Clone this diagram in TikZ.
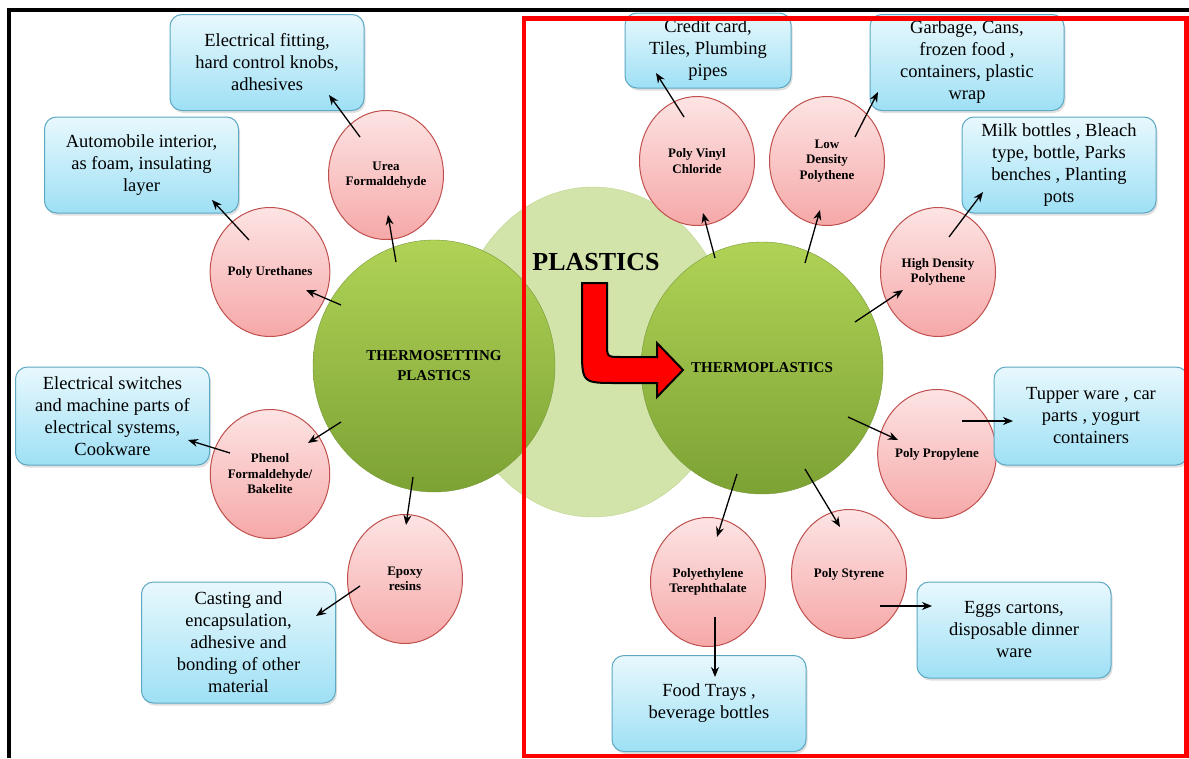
\documentclass[tikz,border=0pt]{standalone}
\usepackage{fontspec}
\setmainfont{Liberation Serif}
\usetikzlibrary{arrows.meta,shapes.geometric,shadows}

\definecolor{pinkline}{RGB}{192,80,77}
\definecolor{pinktop}{RGB}{253,228,228}
\definecolor{pinkbot}{RGB}{246,168,168}
\definecolor{blueline}{RGB}{93,168,196}
\definecolor{bluetop}{RGB}{232,248,253}
\definecolor{bluebot}{RGB}{158,224,245}
\definecolor{greenline}{RGB}{118,152,54}
\definecolor{greentop}{RGB}{176,210,86}
\definecolor{greenbot}{RGB}{124,162,52}
\definecolor{paleline}{RGB}{188,211,140}
\definecolor{palefill}{RGB}{211,228,171}

\tikzset{
  family/.style={ellipse, draw=greenline, top color=greentop, bottom color=greenbot,
    minimum width=242pt, minimum height=252pt, inner sep=0pt, align=center,
    font=\fontsize{15}{20}\selectfont\bfseries},
  polymer/.style={ellipse, draw=pinkline, line width=1pt, top color=pinktop, bottom color=pinkbot,
    minimum width=115pt, minimum height=129pt, inner sep=0pt, align=center,
    font=\fontsize{13}{15.5}\selectfont\bfseries},
  usage/.style={rectangle, rounded corners=12pt, draw=blueline, line width=1pt,
    top color=bluetop, bottom color=bluebot,
    drop shadow={shadow xshift=1.5pt, shadow yshift=-2.5pt, opacity=0.25},
    minimum width=194pt, minimum height=96pt, inner sep=2pt, align=center,
    font=\fontsize{18.5}{22}\selectfont}
}

\begin{document}
\begin{tikzpicture}[x=1pt, y=-1pt, >={Stealth[length=10pt,width=8pt]}]
    \useasboundingbox (0,0) rectangle (1189,758);

    % the two groups over the plastics circle
    \node[ellipse, draw=paleline, fill=palefill, minimum width=280pt, minimum height=330pt] (plas) at (593,352) {};
    \node[font=\fontsize{26}{30}\selectfont\bfseries] (plastitle) at (596,262) {PLASTICS};
    \node[family] (tset) at (434,366) {THERMOSETTING\\PLASTICS};
    \node[family] (tplast) at (762,368) {THERMOPLASTICS};

    \filldraw[fill=red, draw=black, line width=2pt, line join=miter]
      (582,283) -- (607,283) -- (607,343) .. controls (607,357) .. (621,357)
      -- (657,357) -- (657,343) -- (683,370) -- (657,397) -- (657,383)
      -- (617,383) .. controls (582,383) .. (582,348) -- cycle;

    % thermosetting side
    \node[polymer] (urea) at (386,175) {Urea\\Formaldehyde};
    \node[polymer] (pu) at (270,272) {Poly Urethanes};
    \node[polymer] (pf) at (270,474) {Phenol\\Formaldehyde/\\Bakelite};
    \node[polymer] (epoxy) at (405,579) {Epoxy\\resins};

    \node[usage] (fitting) at (267,62.5) {Electrical fitting,\\hard control knobs,\\adhesives};
    \node[usage] (auto) at (141.5,165) {Automobile interior,\\as foam, insulating\\layer};
    \node[usage, minimum height=98pt] (switch) at (112.5,416) {Electrical switches\\and machine parts of\\electrical systems,\\Cookware};
    \node[usage, minimum height=121pt] (casting) at (238.5,642.5) {Casting and\\encapsulation,\\adhesive and\\bonding of other\\material};

    % thermoplastics side
    \node[polymer] (pvc) at (697,161) {Poly Vinyl\\Chloride};
    \node[polymer] (ldp) at (827,161) {Low\\Density\\Polythene};
    \node[polymer] (hdp) at (938,272) {High Density\\Polythene};
    \node[polymer] (pp) at (937,454) {Poly Propylene};
    \node[polymer] (ps) at (849,574) {Poly Styrene};
    \node[polymer] (pet) at (708,582) {Polyethylene\\Terephthalate};

    \node[usage, minimum width=166pt, minimum height=75pt] (credit) at (708,50.5) {Credit card,\\Tiles, Plumbing\\pipes};
    \node[usage] (garbage) at (967,62.5) {Garbage, Cans,\\frozen food ,\\containers, plastic\\wrap};
    \node[usage] (milk) at (1059,165) {Milk bottles , Bleach\\type, bottle, Parks\\benches , Planting\\pots};
    \node[usage, minimum height=98pt] (tupper) at (1091,416) {Tupper ware , car\\parts , yogurt\\containers};
    \node[usage] (eggs) at (1014,630) {Eggs cartons,\\disposable dinner\\ware};
    \node[usage] (food) at (709,703.5) {Food Trays ,\\beverage bottles};

    \path[->, line width=1.3pt]
      ([shift={(-38,-104)}]tset.center) edge ([shift={(2,40)}]urea.center)
      ([shift={(-26,-38)}]urea.center) edge ([shift={(62,32.5)}]fitting.center)
      ([shift={(-93,-61)}]tset.center) edge ([shift={(36,18)}]pu.center)
      ([shift={(-21,-32)}]pu.center) edge ([shift={(70.5,35)}]auto.center)
      ([shift={(-93,56)}]tset.center) edge ([shift={(38,-31)}]pf.center)
      ([shift={(-40,-21)}]pf.center) edge ([shift={(75.5,24)}]switch.center)
      ([shift={(-21,111)}]tset.center) edge ([shift={(1,-54)}]epoxy.center)
      ([shift={(-45,7)}]epoxy.center) edge ([shift={(77.5,-26.5)}]casting.center)
      ([shift={(-47,-110)}]tplast.center) edge ([shift={(6,52)}]pvc.center)
      ([shift={(-13,-44)}]pvc.center) edge ([shift={(-52,22.5)}]credit.center)
      ([shift={(43,-105)}]tplast.center) edge ([shift={(-7,49)}]ldp.center)
      ([shift={(28,-24)}]ldp.center) edge ([shift={(-89,29.5)}]garbage.center)
      ([shift={(93,-46)}]tplast.center) edge ([shift={(-35,18)}]hdp.center)
      ([shift={(11,-35)}]hdp.center) edge ([shift={(-76,27)}]milk.center)
      ([shift={(86,49)}]tplast.center) edge ([shift={(-39,-14)}]pp.center)
      ([shift={(25,-33)}]pp.center) edge ([shift={(-78,5)}]tupper.center)
      ([shift={(43,101)}]tplast.center) edge ([shift={(-9,-47)}]ps.center)
      ([shift={(31,32)}]ps.center) edge ([shift={(-82,-24)}]eggs.center)
      ([shift={(-25,106)}]tplast.center) edge ([shift={(9,-45)}]pet.center)
      ([shift={(7,35)}]pet.center) edge ([shift={(6,-26.5)}]food.center)
    ;

    % frames
    \draw[line width=3.5pt] (9,758) -- (9,10) -- (1189,10);
    \draw[red, line width=4.5pt] (524,18.5) rectangle (1186.5,756);
\end{tikzpicture}
\end{document}
